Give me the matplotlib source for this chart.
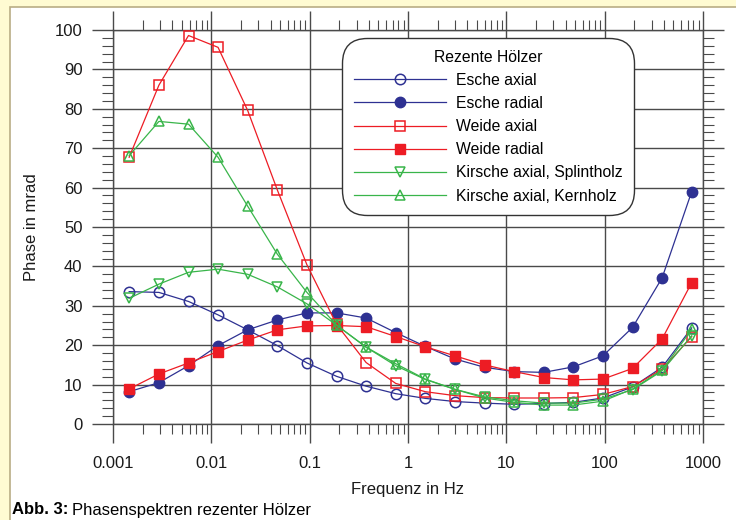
import matplotlib.pyplot as plt
import matplotlib.patches as mpatches
from matplotlib.ticker import LogLocator, MultipleLocator, FixedLocator, FixedFormatter, NullFormatter
import numpy as np

plt.rcParams['font.family'] = ['Liberation Sans', 'DejaVu Sans']

# frequencies in Hz
freq = [0.00146, 0.00293, 0.00586, 0.0117, 0.0234, 0.0469, 0.0938, 0.1875, 0.375, 0.75,
        1.5, 3, 6, 12, 24, 48, 96, 192, 384, 768]

# phase in mrad
esche_axial = [33.6, 33.4, 31.1, 27.7, 23.9, 19.9, 15.5, 12.1, 9.6, 7.7,
               6.5, 5.7, 5.3, 5.0, 5.2, 5.5, 6.6, 9.4, 14.4, 24.4]
esche_radial = [8.2, 10.5, 14.8, 19.9, 23.9, 26.4, 28.2, 28.2, 26.9, 23.2,
                19.7, 16.5, 14.4, 13.3, 13.1, 14.5, 17.3, 24.5, 37.1, 59.0]
weide_axial = [67.7, 86.0, 98.6, 95.6, 79.6, 59.4, 40.4, 25.3, 15.6, 10.3,
               8.2, 7.2, 6.7, 6.6, 6.6, 6.7, 7.5, 9.5, 13.9, 22.2]
weide_radial = [8.9, 12.7, 15.5, 18.4, 21.3, 23.9, 24.9, 25.0, 24.7, 22.2,
                19.6, 17.3, 15.0, 13.3, 11.8, 11.2, 11.4, 14.1, 21.6, 35.9]
kirsche_splint = [31.9, 35.5, 38.5, 39.3, 38.0, 34.8, 30.5, 25.1, 19.5, 14.8,
                  11.3, 8.8, 6.9, 5.9, 5.3, 5.3, 6.3, 8.7, 13.5, 22.4]
kirsche_kern = [68.1, 76.8, 76.1, 67.7, 55.3, 43.1, 33.4, 25.1, 19.5, 15.3,
                11.4, 8.8, 6.6, 5.5, 4.8, 4.8, 5.8, 8.9, 13.7, 24.0]

x_ticks = [0.001, 0.01, 0.1, 1, 10, 100, 1000]
x_ticklabels = ['0.001', '0.01', '0.1', '1', '10', '100', '1000']

blue = '#2e3192'
red = '#ed1c24'
green = '#39b54a'
grid_c = '#4a4a4a'

fig = plt.figure(figsize=(7.36, 5.2), dpi=100, facecolor='#fffbd2')
# white panel with tan border
panel = mpatches.Rectangle((10 / 736, -0.01), 1.0, 1 - 7 / 520 + 0.01, transform=fig.transFigure,
                           facecolor='white', edgecolor='#b9ad85', linewidth=1.2, zorder=-1)
fig.patches.append(panel)

ax = fig.add_axes([113 / 736, 1 - 424 / 520, 590 / 736, 394 / 520], zorder=2)
ax.set_facecolor('white')
ax.set_xscale('log')
ax.set_xlim(0.001, 1000)
ax.set_ylim(0, 100)

ms = 7.5
lw = 0.9
ax.plot(freq, esche_axial, color=blue, lw=lw, marker='o', ms=ms, mfc='none', mec=blue, mew=1.1, label='Esche axial', zorder=3)
ax.plot(freq, esche_radial, color=blue, lw=lw, marker='o', ms=ms, mfc=blue, mec=blue, label='Esche radial', zorder=3)
ax.plot(freq, weide_axial, color=red, lw=lw, marker='s', ms=ms, mfc='none', mec=red, mew=1.1, label='Weide axial', zorder=3)
ax.plot(freq, weide_radial, color=red, lw=lw, marker='s', ms=ms, mfc=red, mec=red, label='Weide radial', zorder=3)
ax.plot(freq, kirsche_splint, color=green, lw=lw, marker='v', ms=ms, mfc='none', mec=green, mew=1.1, label='Kirsche axial, Splintholz', zorder=3)
ax.plot(freq, kirsche_kern, color=green, lw=lw, marker='^', ms=ms, mfc='none', mec=green, mew=1.1, label='Kirsche axial, Kernholz', zorder=3)

# ticks / grid
ax.xaxis.set_major_locator(FixedLocator(x_ticks))
ax.xaxis.set_major_formatter(FixedFormatter(x_ticklabels))
ax.xaxis.set_minor_locator(LogLocator(base=10, subs=np.arange(2, 10), numticks=20))
ax.xaxis.set_minor_formatter(NullFormatter())
ax.yaxis.set_major_locator(MultipleLocator(10))
ax.yaxis.set_minor_locator(MultipleLocator(2))

ax.tick_params(which='both', direction='out', color=grid_c, top=True, right=True,
               labeltop=False, labelright=False, labelsize=12, labelcolor='#1a1a1a')
ax.tick_params(axis='x', which='major', length=14, width=1.0, pad=9)
ax.tick_params(axis='x', which='minor', length=7, width=0.8)
ax.tick_params(axis='y', which='major', length=15, width=1.0, pad=7)
ax.tick_params(axis='y', which='minor', length=8, width=0.8)
ax.grid(True, which='major', color=grid_c, lw=1.0)
ax.set_axisbelow(True)
for s in ax.spines.values():
    s.set_color(grid_c)
    s.set_linewidth(1.0)

ax.set_xlabel('Frequenz in Hz', fontsize=12, color='#1a1a1a', labelpad=8)
ax.set_ylabel('Phase in mrad', fontsize=12, color='#1a1a1a', labelpad=11)

leg = ax.legend(title='Rezente Hölzer', loc='upper left', bbox_to_anchor=(0.388, 0.98),
                borderaxespad=0, fontsize=11.3, title_fontsize=11.3, handlelength=5.85,
                handletextpad=0.65, labelspacing=0.52, borderpad=0.75,
                frameon=True, fancybox=True, framealpha=1)
frame = leg.get_frame()
frame.set_boxstyle('round,pad=0,rounding_size=1.6')
frame.set_edgecolor('#333333')
frame.set_linewidth(1.0)
leg.set_zorder(5)

# caption: bold "Abb. 3:" followed by regular text
cap_y = 1 - 510 / 520
t1 = fig.text(12 / 736, cap_y, 'Abb. 3:', fontsize=12, fontweight='bold', va='center', ha='left')
fig.canvas.draw()
bb = t1.get_window_extent()
fig.text((bb.x1 + 4) / 736, cap_y, 'Phasenspektren rezenter Hölzer', fontsize=12,
         va='center', ha='left')

fig.savefig('out.png', dpi=100, facecolor=fig.get_facecolor())
